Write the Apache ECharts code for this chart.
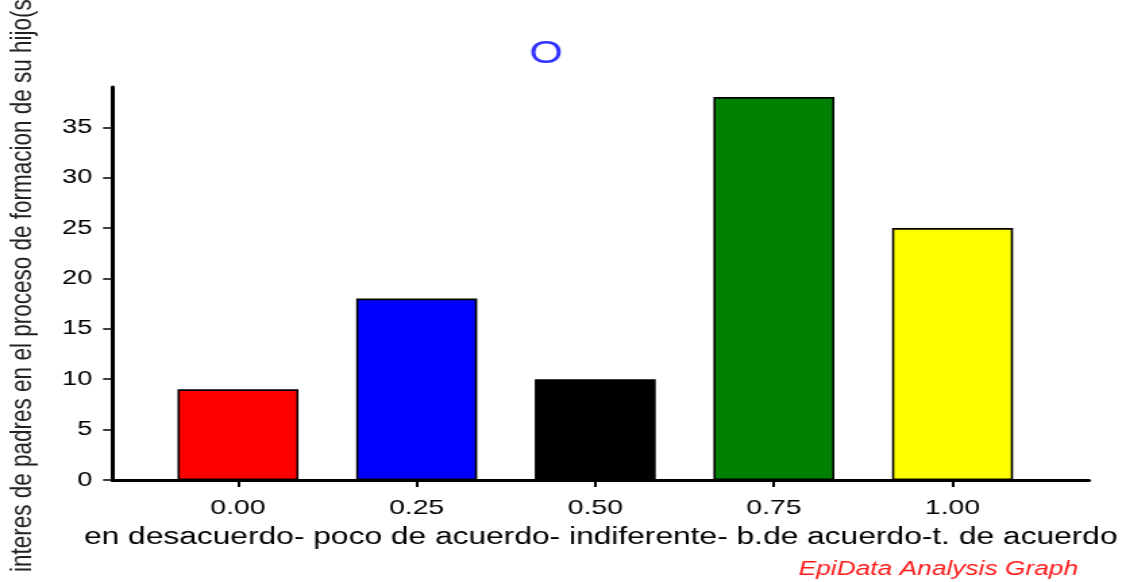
<!DOCTYPE html>
<html>
<head>
<meta charset="utf-8">
<script src="https://cdn.jsdelivr.net/npm/echarts@6/dist/echarts.min.js"></script>
<style>
  html, body { margin: 0; padding: 0; background: #fff; overflow: hidden; }
  #wrap { width: 1126px; height: 582px; overflow: hidden; }
  #c { width: 834px; height: 582px; transform: scaleX(1.35012); transform-origin: 0 0; }
</style>
</head>
<body>
<div id="wrap"><div id="c"></div></div>
<script>
// ---- data ----
const titleText = 'O';
const xTickValues = [0, 0.25, 0.5, 0.75, 1.0];
const xValues = [0, 0.25, 0.5, 0.75, 1.0];
const counts = [9, 18, 10, 38, 25];
const yTickValues = [0, 5, 10, 15, 20, 25, 30, 35];
const xAxisName = 'en desacuerdo- poco de acuerdo- indiferente- b.de acuerdo-t. de acuerdo';
const yAxisName = 'interes de padres en el proceso de formacion de su hijo(s)';
const footerText = 'EpiData Analysis Graph';

// ---- styles ----
const barColors = ['#ff0000', '#0000ff', '#000000', '#008000', '#ffff00'];
const FONT = 'Liberation Sans, Arial, sans-serif';

const chart = echarts.init(document.getElementById('c'));
chart.setOption({
  animation: false,
  backgroundColor: '#ffffff',
  title: {
    text: titleText,
    left: 392,
    top: 38,
    padding: 0,
    textStyle: { color: '#3333ff', fontSize: 32, fontWeight: 'normal', fontFamily: FONT }
  },
  grid: { left: 83.3, right: 27.4, top: 87, bottom: 102, containLabel: false },
  xAxis: {
    type: 'value',
    min: -0.1757,
    max: 1.191,
    splitLine: { show: false },
    axisLine: { show: true, onZero: false, lineStyle: { color: '#000', width: 3 } },
    axisTick: { show: true, length: 7, customValues: xTickValues, lineStyle: { color: '#000', width: 2 } },
    axisLabel: {
      customValues: xTickValues,
      formatter: v => Number(v).toFixed(2),
      fontSize: 21, color: '#000', margin: 18, fontFamily: FONT
    },
    name: xAxisName,
    nameLocation: 'middle',
    nameGap: 46,
    nameTextStyle: { fontSize: 23.5, color: '#000', fontFamily: FONT }
  },
  yAxis: {
    type: 'value',
    min: 0,
    max: 39,
    splitLine: { show: false },
    axisLine: { show: true, onZero: false, lineStyle: { color: '#000', width: 3 } },
    axisTick: { show: true, length: 7, customValues: yTickValues, lineStyle: { color: '#000', width: 1.5 } },
    axisLabel: { customValues: yTickValues, fontSize: 20, color: '#000', margin: 15, fontFamily: FONT }
  },
  series: [{
    type: 'bar',
    barWidth: 89.6,
    data: xValues.map((x, i) => ({
      value: [x, counts[i]],
      itemStyle: { color: barColors[i], borderColor: '#000', borderWidth: 1.6 }
    }))
  }],
  graphic: [
    {
      type: 'text',
      x: 17, y: 572,
      rotation: Math.PI / 2,
      style: {
        text: yAxisName, fontSize: 22.5, fill: '#222', fontFamily: FONT,
        align: 'left', verticalAlign: 'middle'
      }
    },
    {
      type: 'text',
      x: 798.5, y: 570,
      style: {
        text: footerText, fontSize: 19.5, fill: '#ff1a1a', fontStyle: 'italic', fontFamily: FONT,
        align: 'right', verticalAlign: 'middle'
      }
    }
  ]
});
</script>
</body>
</html>
